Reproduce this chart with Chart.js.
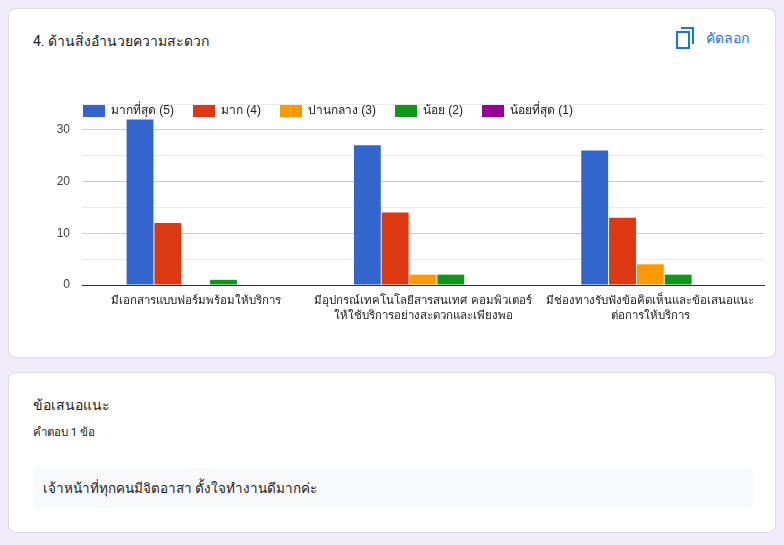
<!DOCTYPE html>
<html>
<head>
    <meta charset="utf-8">
    <title>ด้านสิ่งอำนวยความสะดวก</title>
    <script src="https://cdn.jsdelivr.net/npm/chart.js"></script>
    <style>
        body {
            margin: 0;
            background: #f0ebf8;
            font-family: Roboto, Arial, sans-serif;
            width: 784px;
            height: 545px;
            overflow: hidden;
            position: relative;
        }
        .card {
            position: absolute;
            left: 8px;
            width: 766px;
            background: #fff;
            border: 1px solid #dadce0;
            border-radius: 8px;
        }
        .title {
            position: absolute;
            left: 24px;
            font-size: 14px;
            color: #202124;
        }
        .copy {
            position: absolute;
            right: 26px;
            top: 18px;
            color: #1a73e8;
            font-size: 14px;
            font-weight: 500;
            display: flex;
            align-items: center;
        }
        .copy svg { margin-right: 11px; }
        .chart-container {
            position: absolute;
            left: 16px;
            top: 93px;
            width: 760px;
            height: 240px;
        }
        .count {
            position: absolute;
            left: 24px;
            top: 50px;
            font-size: 11.5px;
            color: #202124;
        }
        .answer {
            position: absolute;
            left: 24px;
            top: 95px;
            width: 720px;
            height: 40px;
            background: #f8f9fa;
            border-radius: 4px;
            font-size: 13.5px;
            color: #202124;
            line-height: 40px;
            text-indent: 10px;
        }
    </style>
</head>
<body>
    <div class="card" style="top:8px;height:348px;">
        <div class="title" style="top:21px;">4. ด้านสิ่งอำนวยความสะดวก</div>
        <div class="copy">
            <svg width="20" height="22" viewBox="0 0 20 22">
                <path d="M6 1h12v16" fill="none" stroke="#1a73e8" stroke-width="2"/>
                <rect x="2" y="5" width="12" height="16" fill="none" stroke="#1a73e8" stroke-width="2"/>
            </svg>
            คัดลอก
        </div>
    </div>
    <div class="chart-container">
        <canvas id="facilityChart"></canvas>
    </div>

    <div class="card" style="top:372px;height:159px;">
        <div class="title" style="top:21px;">ข้อเสนอแนะ</div>
        <div class="count">คำตอบ 1 ข้อ</div>
        <div class="answer">เจ้าหน้าที่ทุกคนมีจิตอาสา ตั้งใจทำงานดีมากค่ะ</div>
    </div>

    <script>
        var categories = [
            'มีเอกสารแบบฟอร์มพร้อมให้บริการ',
            ['มีอุปกรณ์เทคโนโลยีสารสนเทศ คอมพิวเตอร์', 'ให้ใช้บริการอย่างสะดวกและเพียงพอ'],
            ['มีช่องทางรับฟังข้อคิดเห็นและข้อเสนอแนะ', 'ต่อการให้บริการ']
        ];
        var seriesNames = ['มากที่สุด (5)', 'มาก (4)', 'ปานกลาง (3)', 'น้อย (2)', 'น้อยที่สุด (1)'];
        var seriesColors = ['#3366cc', '#dc3912', '#ff9900', '#109618', '#990099'];
        var veryHigh = [32, 27, 26];
        var high = [12, 14, 13];
        var medium = [0, 2, 4];
        var low = [1, 2, 2];
        var veryLow = [0, 0, 0];
        var yTicks = [0, 10, 20, 30];

        var seriesValues = [veryHigh, high, medium, low, veryLow];

        // legend drawn inside the plot area, like the Google chart
        var insideLegend = {
            id: 'insideLegend',
            afterDraw: function(chart) {
                var ctx = chart.ctx;
                var x = chart.chartArea.left + 1;
                var y = chart.chartArea.top + 1;
                ctx.save();
                ctx.font = '12px Arial, sans-serif';
                ctx.textBaseline = 'middle';
                chart.data.datasets.forEach(function(ds) {
                    ctx.fillStyle = ds.backgroundColor;
                    ctx.fillRect(x, y, 22, 12);
                    ctx.fillStyle = '#222';
                    ctx.fillText(ds.label, x + 28, y + 6);
                    x += 28 + ctx.measureText(ds.label).width + 19;
                });
                ctx.restore();
            }
        };

        var ctx1 = document.getElementById('facilityChart').getContext('2d');
        var facilityChart = new Chart(ctx1, {
            type: 'bar',
            data: {
                labels: categories,
                datasets: seriesNames.map(function(name, i) {
                    return {label: name, data: seriesValues[i], backgroundColor: seriesColors[i]};
                })
            },
            options: {
                responsive: true,
                maintainAspectRatio: false,
                animation: false,
                layout: {padding: {top: 11, right: 12, left: 0, bottom: 0}},
                datasets: {bar: {categoryPercentage: 0.612, barPercentage: 0.965}},
                plugins: {legend: {display: false}, tooltip: {enabled: false}},
                scales: {
                    x: {
                        grid: {display: false},
                        border: {color: '#333'},
                        ticks: {
                            color: '#222',
                            padding: 0,
                            maxRotation: 0,
                            autoSkip: false,
                            font: {family: 'Arial, sans-serif', size: 11.5, lineHeight: 1.35}
                        },
                        afterFit: function(scale) { scale.height = 48; }
                    },
                    y: {
                        min: 0,
                        max: 35,
                        border: {display: false},
                        grid: {
                            drawTicks: false,
                            color: function(c) {
                                if (c.tick.value === 0) return '#333';
                                return yTicks.indexOf(c.tick.value) >= 0 ? '#cccccc' : '#ebebeb';
                            }
                        },
                        ticks: {
                            stepSize: 5,
                            padding: 12,
                            color: '#444',
                            font: {family: 'Arial, sans-serif', size: 12},
                            callback: function(v) { return yTicks.indexOf(v) >= 0 ? v : ''; }
                        },
                        afterFit: function(scale) {
                            scale.width = 66;
                            scale.paddingTop = 0;
                            scale.paddingBottom = 0;
                        }
                    }
                }
            },
            plugins: [insideLegend]
        });
    </script>
</body>
</html>
